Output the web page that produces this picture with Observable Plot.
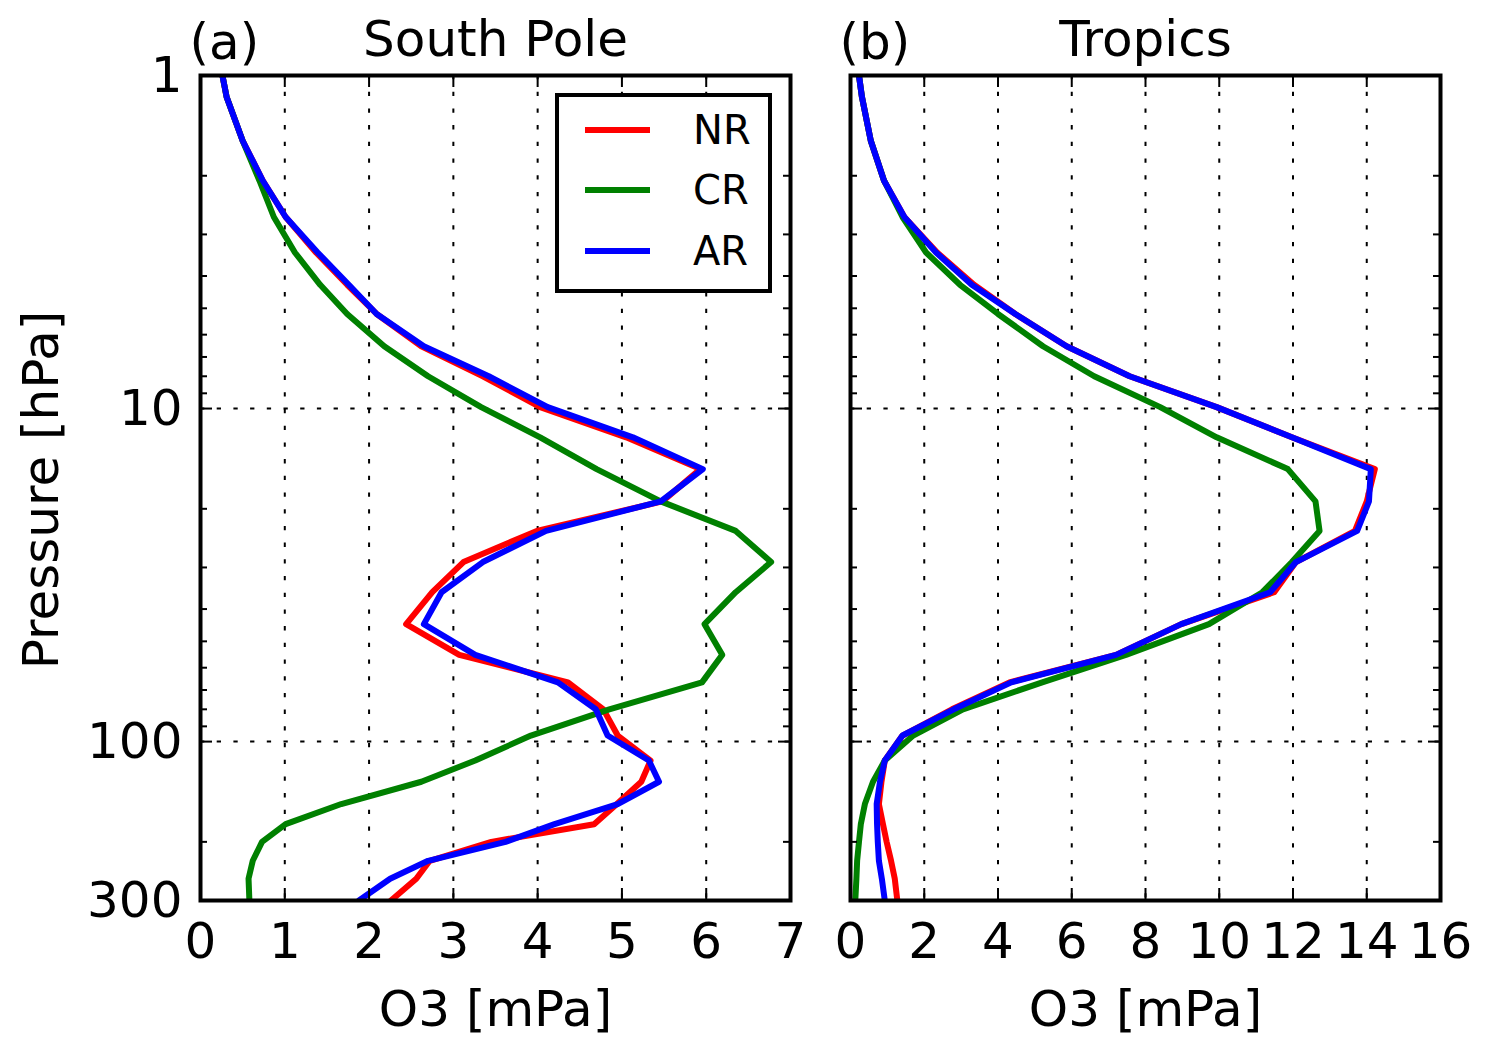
<!DOCTYPE html>
<html>
<head>
<meta charset="utf-8">
<script src="https://cdn.jsdelivr.net/npm/d3@7"></script>
<script src="https://cdn.jsdelivr.net/npm/@observablehq/plot@0.6"></script>
<style>
  body { margin: 0; background: white; }
  #chart { position: relative; width: 1487px; height: 1051px; background: white; }
  #chart > svg { position: absolute; top: 0; }
</style>
</head>
<body>
<div id="chart"></div>
<script>
// pressure levels (hPa), shared by every profile
const levels = [1, 1.16, 1.57, 2.07, 2.66, 3.4, 4.25, 5.2, 6.5, 8.0, 9.9, 12.2, 15.2, 19.0, 23.3,
  28.9, 35.6, 44.4, 54.9, 66.4, 80, 95.9, 114, 132, 154, 177, 200, 228, 258, 300];

const runs = ["NR", "CR", "AR"];
const colours = ["#ff0000", "#008000", "#0000ff"];

// (a) South Pole, O3 in mPa
const spNR = [0.26, 0.31, 0.50, 0.74, 1.01, 1.37, 1.74, 2.09, 2.62, 3.35, 4.03, 5.05, 5.93, 5.48, 3.99,
  3.12, 2.75, 2.44, 3.07, 4.36, 4.78, 4.95, 5.34, 5.23, 4.94, 4.67, 3.45, 2.72, 2.56, 2.26];
const spCR = [0.26, 0.31, 0.50, 0.70, 0.87, 1.12, 1.42, 1.74, 2.18, 2.70, 3.33, 4.03, 4.70, 5.46, 6.35,
  6.77, 6.35, 5.98, 6.19, 5.95, 4.85, 3.92, 3.26, 2.62, 1.67, 1.01, 0.73, 0.62, 0.57, 0.58];
const spAR = [0.26, 0.31, 0.50, 0.74, 1.01, 1.39, 1.76, 2.09, 2.65, 3.42, 4.12, 5.13, 5.96, 5.46, 4.10,
  3.35, 2.86, 2.65, 3.26, 4.24, 4.69, 4.83, 5.32, 5.44, 4.95, 4.20, 3.62, 2.70, 2.25, 1.88];

// (b) Tropics
const trNR = [0.23, 0.31, 0.55, 0.91, 1.46, 2.35, 3.35, 4.47, 5.86, 7.57, 9.93, 11.97, 14.22, 14.0, 13.68,
  12.08, 11.49, 8.97, 7.2, 4.31, 2.75, 1.41, 0.93, 0.84, 0.77, 0.88, 0.98, 1.1, 1.20, 1.27];
const trCR = [0.23, 0.31, 0.55, 0.91, 1.41, 2.05, 2.97, 4.0, 5.22, 6.61, 8.4, 9.93, 11.86, 12.61, 12.72,
  11.97, 11.17, 9.72, 7.47, 5.2, 3.05, 1.70, 0.93, 0.61, 0.39, 0.28, 0.23, 0.18, 0.16, 0.13];
const trAR = [0.23, 0.31, 0.55, 0.91, 1.46, 2.32, 3.29, 4.47, 5.86, 7.57, 9.93, 11.97, 14.11, 14.06, 13.74,
  12.08, 11.38, 8.97, 7.2, 4.36, 2.80, 1.41, 0.93, 0.80, 0.71, 0.72, 0.74, 0.77, 0.85, 0.93];

const spTicks = [0, 1, 2, 3, 4, 5, 6, 7];
const trTicks = [0, 2, 4, 6, 8, 10, 12, 14, 16];
const pLabels = [1, 10, 100, 300];
const pMajor = [10, 100];
const pMinor = [2, 3, 4, 5, 6, 7, 8, 9, 20, 30, 40, 50, 60, 70, 80, 90, 200];

const H = 1051, mT = 75, mB = 151;

function panel({width, marginLeft, marginRight, xMax, xTicks, title, tag, values, first}) {
  const innerH = H - mT - mB;
  const innerW = width - marginLeft - marginRight;
  const rows = runs.flatMap((run, k) => levels.map((p, i) => ({run, p, o3: values[k][i]})));
  const tick = {stroke: "black", strokeWidth: 2};
  const grid = {stroke: "black", strokeOpacity: 1, strokeWidth: 2, strokeDasharray: "4.3 12.4"};
  const txt = {fontSize: 50, lineAnchor: "middle", text: d => d};
  return Plot.plot({
    width, height: H, marginLeft, marginRight, marginTop: mT, marginBottom: mB,
    style: {fontFamily: "DejaVu Sans", fontSize: "50px", color: "black", background: "white"},
    x: {domain: [0, xMax], axis: null},
    y: {type: "log", domain: [1, 300], reverse: true, axis: null},
    color: {domain: runs, range: colours},
    marks: [
      Plot.gridX(xTicks.slice(1, -1), grid),
      Plot.gridY(pMajor, grid),
      Plot.line(rows, {x: "o3", y: "p", z: "run", stroke: "run", strokeWidth: 6,
        strokeLinejoin: "round", clip: true}),
      Plot.tickX(xTicks, {...tick, insetTop: innerH - 12}),
      Plot.tickX(xTicks, {...tick, insetBottom: innerH - 12}),
      Plot.tickY(pMajor, {...tick, insetRight: innerW - 12}),
      Plot.tickY(pMajor, {...tick, insetLeft: innerW - 12}),
      Plot.tickY(pMinor, {...tick, insetRight: innerW - 7}),
      Plot.tickY(pMinor, {...tick, insetLeft: innerW - 7}),
      Plot.frame({stroke: "black", strokeWidth: 4}),
      Plot.axisX(xTicks, {tickSize: 0, tickPadding: 22, fontSize: 50, label: null}),
      first ? Plot.axisY(pLabels, {tickSize: 0, tickPadding: 18, fontSize: 50, label: null,
        tickFormat: d => String(d)}) : null,
      first ? Plot.text(["Pressure [hPa]"], {...txt, frameAnchor: "left", textAnchor: "middle",
        rotate: -90, dx: -159, dy: 2}) : null,
      Plot.text(["O3 [mPa]"], {...txt, frameAnchor: "bottom", dy: 109}),
      Plot.text([title], {...txt, frameAnchor: "top", dy: -36}),
      Plot.text([tag], {...txt, frameAnchor: "top-left", textAnchor: "start", dx: -11, dy: -33})
    ]
  });
}

const chart = document.getElementById("chart");

const left = panel({width: 820, marginLeft: 200, marginRight: 30, xMax: 7, xTicks: spTicks,
  title: "South Pole", tag: "(a)", values: [spNR, spCR, spAR], first: true});
left.style.left = "0px";
chart.appendChild(left);

const right = panel({width: 667, marginLeft: 30, marginRight: 47, xMax: 16, xTicks: trTicks,
  title: "Tropics", tag: "(b)", values: [trNR, trCR, trAR], first: false});
right.style.left = "820px";
chart.appendChild(right);

// legend box inside panel (a)
const leg = d3.create("svg")
  .attr("width", 218).attr("height", 201)
  .style("left", "555px").style("top", "93px")
  .style("font-family", "DejaVu Sans");
leg.append("rect").attr("x", 2).attr("y", 2).attr("width", 213).attr("height", 196)
  .attr("fill", "white").attr("stroke", "black").attr("stroke-width", 4);
const rowY = [37, 97, 158];
runs.forEach((r, i) => {
  leg.append("line").attr("x1", 30).attr("x2", 95).attr("y1", rowY[i]).attr("y2", rowY[i])
    .attr("stroke", colours[i]).attr("stroke-width", 6);
  leg.append("text").attr("x", 138).attr("y", rowY[i] + 14).attr("font-size", 40)
    .attr("fill", "black").text(r);
});
chart.appendChild(leg.node());
</script>
</body>
</html>
